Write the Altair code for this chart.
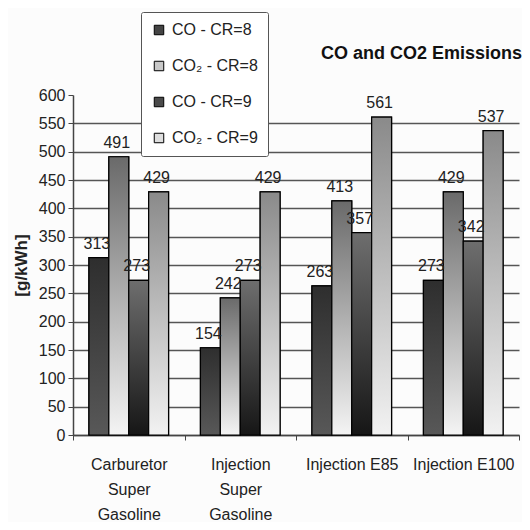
import altair as alt
import pandas as pd

categories = ["Carburetor Super Gasoline", "Injection Super Gasoline", "Injection E85", "Injection E100"]
series = ["CO - CR=8", "CO₂ - CR=8", "CO - CR=9", "CO₂ - CR=9"]
co_cr8 = [313, 154, 263, 273]
co2_cr8 = [491, 242, 413, 429]
co_cr9 = [273, 273, 357, 342]
co2_cr9 = [429, 429, 561, 537]

values_by_series = [co_cr8, co2_cr8, co_cr9, co2_cr9]
legend_colors = ["#444444", "#c8c8c8", "#4a4a4a", "#dedede"]
gradients = [
    ("#2e2e2e", "#585858"),
    ("#6a6a6a", "#f4f4f4"),
    ("#6e6e6e", "#161616"),
    ("#8a8a8a", "#f2f2f2"),
]

rows = []
for s, vals in zip(series, values_by_series):
    for c, v in zip(categories, vals):
        rows.append({"cat": c, "series": s, "value": v})
df = pd.DataFrame(rows)

FONT = "Liberation Sans"

base = alt.Chart(df).encode(
    x=alt.X(
        "cat:N",
        sort=categories,
        scale=alt.Scale(paddingInner=0, paddingOuter=0),
        axis=alt.Axis(
            title=None,
            labelAngle=0,
            labelFontSize=16,
            labelFont=FONT,
            labelColor="#222",
            labelLineHeight=25,
            labelPadding=16,
            labelLimit=200,
            labelExpr="indexof(datum.label, 'Gasoline') >= 0 ? split(datum.label, ' ') : datum.label",
            tickBand="extent",
            tickSize=5,
            tickColor="#444",
            domainColor="#444",
            domainWidth=1.5,
            grid=False,
        ),
    ),
    xOffset=alt.XOffset(
        "series:N",
        sort=series,
        scale=alt.Scale(domain=series, paddingInner=0, paddingOuter=0.8),
    ),
    y=alt.Y(
        "value:Q",
        scale=alt.Scale(domain=[0, 600], nice=False),
        axis=alt.Axis(
            title="[g/kWh]",
            titleFont=FONT,
            titleFontSize=17,
            titleFontWeight="bold",
            titleColor="#222",
            titlePadding=8,
            values=list(range(0, 601, 50)),
            labelFontSize=16,
            labelFont=FONT,
            labelColor="#222",
            labelPadding=3,
            tickSize=5,
            tickColor="#444",
            domainColor="#444",
            domainWidth=1.5,
            grid=True,
            gridColor="#555",
            gridWidth=1.3,
            gridOpacity={"condition": {"test": "datum.value == 600", "value": 0}, "value": 1},
        ),
    ),
)

legend_layer = base.mark_bar(stroke="black", strokeWidth=1.2).encode(
    color=alt.Color(
        "series:N",
        sort=series,
        scale=alt.Scale(domain=series, range=legend_colors),
        legend=alt.Legend(
            title=None,
            orient="none",
            legendX=68,
            legendY=-83,
            direction="vertical",
            symbolType="square",
            symbolSize=90,
            symbolStrokeColor="black",
            symbolStrokeWidth=1,
            labelFont=FONT,
            labelFontSize=16,
            labelColor="#222",
            labelOffset=5,
            rowPadding=20,
            padding=10,
            strokeColor="#555",
            fillColor="white",
            cornerRadius=2,
        ),
    )
)

layers = [legend_layer]
for s, (top, bottom) in zip(series, gradients):
    layers.append(
        base.transform_filter(alt.datum.series == s).mark_bar(
            fill=alt.Gradient(
                gradient="linear",
                stops=[
                    alt.GradientStop(color=top, offset=0),
                    alt.GradientStop(color=bottom, offset=1),
                ],
                x1=0, x2=0, y1=0, y2=1,
            ),
            stroke="black",
            strokeWidth=1.2,
        )
    )

labels = base.mark_text(
    baseline="bottom", dy=-6, dx=-2, fontSize=16, font=FONT, color="#222"
).encode(text="value:Q")
layers.append(labels)

chart = alt.layer(*layers).properties(
    width=446,
    height=340,
    padding={"left": 65, "top": 87, "right": 3, "bottom": 87},
    autosize=alt.AutoSizeParams(type="none"),
    background="#fcfcfc",
    title=alt.TitleParams(
        "CO and CO2 Emissions",
        anchor="end",
        frame="group",
        orient="top",
        offset=0,
        dy=51,
        dx=3,
        font=FONT,
        fontSize=18,
        fontWeight="bold",
        color="#111",
    ),
).configure_view(stroke=None)

chart.save("out.html", embed_options={"renderer": "svg", "actions": False})
